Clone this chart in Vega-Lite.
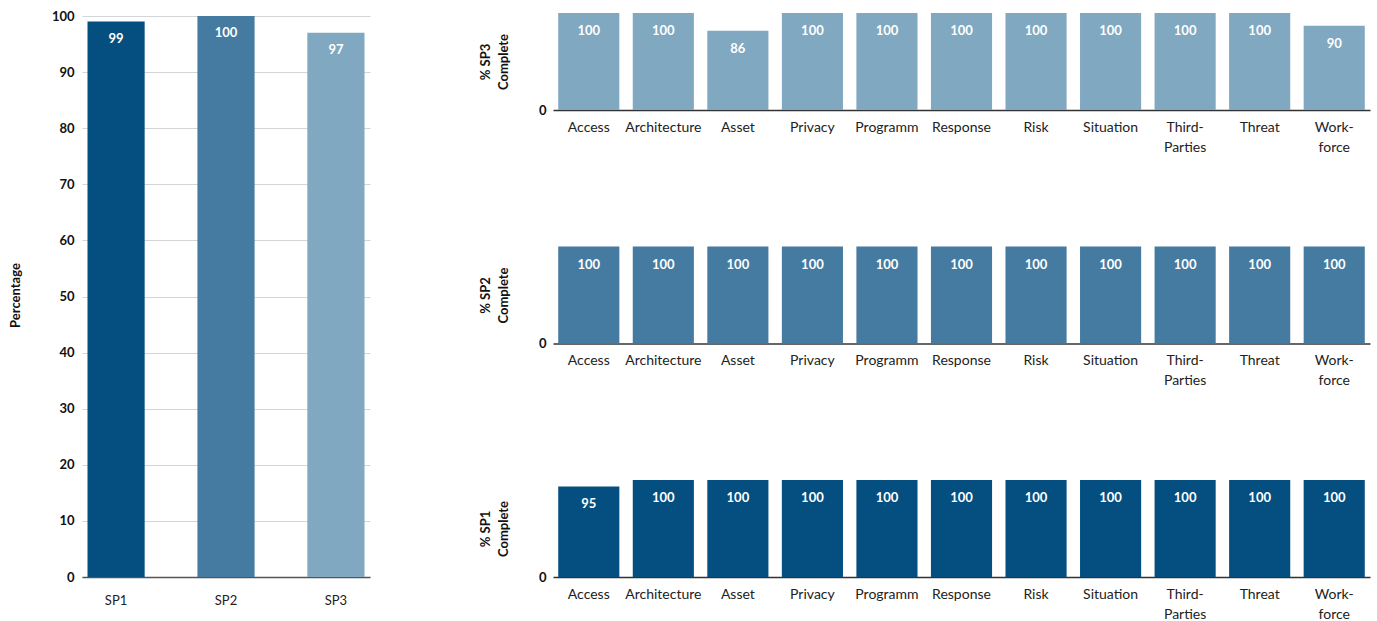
{
  "$schema": "https://vega.github.io/schema/vega-lite/v6.json",
  "background": "white",
  "padding": {"left": 9, "top": 10, "right": 8, "bottom": 0},
  "config": {"font": "Lato", "view": {"stroke": null}},
  "datasets": {
    "overall": [
      {"sp": "SP1", "value": 99},
      {"sp": "SP2", "value": 100},
      {"sp": "SP3", "value": 97}
    ],
    "areas": [
      {"sp": "SP3", "area": "Access", "value": 100},
      {"sp": "SP3", "area": "Architecture", "value": 100},
      {"sp": "SP3", "area": "Asset", "value": 86},
      {"sp": "SP3", "area": "Privacy", "value": 100},
      {"sp": "SP3", "area": "Programm", "value": 100},
      {"sp": "SP3", "area": "Response", "value": 100},
      {"sp": "SP3", "area": "Risk", "value": 100},
      {"sp": "SP3", "area": "Situation", "value": 100},
      {"sp": "SP3", "area": "Third-Parties", "value": 100},
      {"sp": "SP3", "area": "Threat", "value": 100},
      {"sp": "SP3", "area": "Workforce", "value": 90},
      {"sp": "SP2", "area": "Access", "value": 100},
      {"sp": "SP2", "area": "Architecture", "value": 100},
      {"sp": "SP2", "area": "Asset", "value": 100},
      {"sp": "SP2", "area": "Privacy", "value": 100},
      {"sp": "SP2", "area": "Programm", "value": 100},
      {"sp": "SP2", "area": "Response", "value": 100},
      {"sp": "SP2", "area": "Risk", "value": 100},
      {"sp": "SP2", "area": "Situation", "value": 100},
      {"sp": "SP2", "area": "Third-Parties", "value": 100},
      {"sp": "SP2", "area": "Threat", "value": 100},
      {"sp": "SP2", "area": "Workforce", "value": 100},
      {"sp": "SP1", "area": "Access", "value": 95},
      {"sp": "SP1", "area": "Architecture", "value": 100},
      {"sp": "SP1", "area": "Asset", "value": 100},
      {"sp": "SP1", "area": "Privacy", "value": 100},
      {"sp": "SP1", "area": "Programm", "value": 100},
      {"sp": "SP1", "area": "Response", "value": 100},
      {"sp": "SP1", "area": "Risk", "value": 100},
      {"sp": "SP1", "area": "Situation", "value": 100},
      {"sp": "SP1", "area": "Third-Parties", "value": 100},
      {"sp": "SP1", "area": "Threat", "value": 100},
      {"sp": "SP1", "area": "Workforce", "value": 100}
    ]
  },
  "spacing": 109,
  "hconcat": [
    {
      "width": 288,
      "height": 564,
      "data": {"name": "overall"},
      "encoding": {
        "x": {
          "field": "sp", "type": "nominal", "sort": null,
          "scale": {"paddingInner": 0.48, "paddingOuter": 0.05},
          "axis": {"title": null, "labelAngle": 0, "ticks": false, "domainColor": "#555", "domainWidth": 1.5, "labelPadding": 17, "labelFontSize": 13, "labelColor": "#222"}
        },
        "y": {
          "field": "value", "type": "quantitative",
          "scale": {"domain": [0, 100.535], "nice": false},
          "axis": {"values": [0, 10, 20, 30, 40, 50, 60, 70, 80, 90, 100], "grid": true, "gridColor": "#d3d6d8", "domain": false, "ticks": false, "labelPadding": 8, "labelFontSize": 13, "labelFontWeight": "bold", "labelColor": "#111", "title": "Percentage", "titleFontSize": 13, "titleFontWeight": "bold", "titleColor": "#111", "titlePadding": 29}
        }
      },
      "layer": [
        {
          "mark": {"type": "bar"},
          "encoding": {
            "color": {"field": "sp", "type": "nominal", "scale": {"domain": ["SP1", "SP2", "SP3"], "range": ["#054f80", "#457ba0", "#80a8c1"]}, "legend": null}
          }
        },
        {
          "mark": {"type": "text", "color": "white", "baseline": "top", "dy": 11, "fontSize": 13, "fontWeight": "bold"},
          "encoding": {"text": {"field": "value", "type": "quantitative"}}
        }
      ]
    },
    {
      "spacing": 92.5,
      "vconcat": [
        {
          "width": 817, "height": 97,
          "data": {"name": "areas"},
          "transform": [{"filter": "datum.sp == 'SP3'"}],
          "encoding": {
            "x": {"field": "area", "type": "nominal", "sort": null, "scale": {"paddingInner": 0.18, "paddingOuter": 0.07},
              "axis": {"title": null, "labelAngle": 0, "ticks": false, "domainColor": "#333", "domainWidth": 1.5, "labelPadding": 10, "labelFontSize": 14, "labelColor": "#222", "labelLineHeight": 20,
                "labelExpr": "datum.value == 'Third-Parties' ? ['Third-', 'Parties'] : datum.value == 'Workforce' ? ['Work-', 'force'] : datum.value"}},
            "y": {"field": "value", "type": "quantitative", "scale": {"type": "pow", "exponent": 1.35, "domain": [0, 100]},
              "axis": {"values": [0], "grid": false, "domain": false, "ticks": false, "labelPadding": 7, "labelFontSize": 13, "labelFontWeight": "bold", "labelColor": "#111", "title": ["% SP3", "Complete"], "titleFontSize": 13, "titleLineHeight": 18, "titleFontWeight": "bold", "titleColor": "#111", "titlePadding": 28}}
          },
          "layer": [
            {"mark": {"type": "bar", "color": "#80a8c1"}},
            {"mark": {"type": "text", "color": "white", "baseline": "top", "dy": 12, "fontSize": 13, "fontWeight": "bold"}, "encoding": {"text": {"field": "value", "type": "quantitative"}}}
          ]
        },
        {
          "width": 817, "height": 97,
          "data": {"name": "areas"},
          "transform": [{"filter": "datum.sp == 'SP2'"}],
          "encoding": {
            "x": {"field": "area", "type": "nominal", "sort": null, "scale": {"paddingInner": 0.18, "paddingOuter": 0.07},
              "axis": {"title": null, "labelAngle": 0, "ticks": false, "domainColor": "#333", "domainWidth": 1.5, "labelPadding": 10, "labelFontSize": 14, "labelColor": "#222", "labelLineHeight": 20,
                "labelExpr": "datum.value == 'Third-Parties' ? ['Third-', 'Parties'] : datum.value == 'Workforce' ? ['Work-', 'force'] : datum.value"}},
            "y": {"field": "value", "type": "quantitative", "scale": {"type": "pow", "exponent": 1.35, "domain": [0, 100]},
              "axis": {"values": [0], "grid": false, "domain": false, "ticks": false, "labelPadding": 7, "labelFontSize": 13, "labelFontWeight": "bold", "labelColor": "#111", "title": ["% SP2", "Complete"], "titleFontSize": 13, "titleLineHeight": 18, "titleFontWeight": "bold", "titleColor": "#111", "titlePadding": 28}}
          },
          "layer": [
            {"mark": {"type": "bar", "color": "#457ba0"}},
            {"mark": {"type": "text", "color": "white", "baseline": "top", "dy": 12, "fontSize": 13, "fontWeight": "bold"}, "encoding": {"text": {"field": "value", "type": "quantitative"}}}
          ]
        },
        {
          "width": 817, "height": 97,
          "data": {"name": "areas"},
          "transform": [{"filter": "datum.sp == 'SP1'"}],
          "encoding": {
            "x": {"field": "area", "type": "nominal", "sort": null, "scale": {"paddingInner": 0.18, "paddingOuter": 0.07},
              "axis": {"title": null, "labelAngle": 0, "ticks": false, "domainColor": "#333", "domainWidth": 1.5, "labelPadding": 10, "labelFontSize": 14, "labelColor": "#222", "labelLineHeight": 20,
                "labelExpr": "datum.value == 'Third-Parties' ? ['Third-', 'Parties'] : datum.value == 'Workforce' ? ['Work-', 'force'] : datum.value"}},
            "y": {"field": "value", "type": "quantitative", "scale": {"type": "pow", "exponent": 1.35, "domain": [0, 100]},
              "axis": {"values": [0], "grid": false, "domain": false, "ticks": false, "labelPadding": 7, "labelFontSize": 13, "labelFontWeight": "bold", "labelColor": "#111", "title": ["% SP1", "Complete"], "titleFontSize": 13, "titleLineHeight": 18, "titleFontWeight": "bold", "titleColor": "#111", "titlePadding": 28}}
          },
          "layer": [
            {"mark": {"type": "bar", "color": "#054f80"}},
            {"mark": {"type": "text", "color": "white", "baseline": "top", "dy": 12, "fontSize": 13, "fontWeight": "bold"}, "encoding": {"text": {"field": "value", "type": "quantitative"}}}
          ]
        }
      ]
    }
  ]
}
